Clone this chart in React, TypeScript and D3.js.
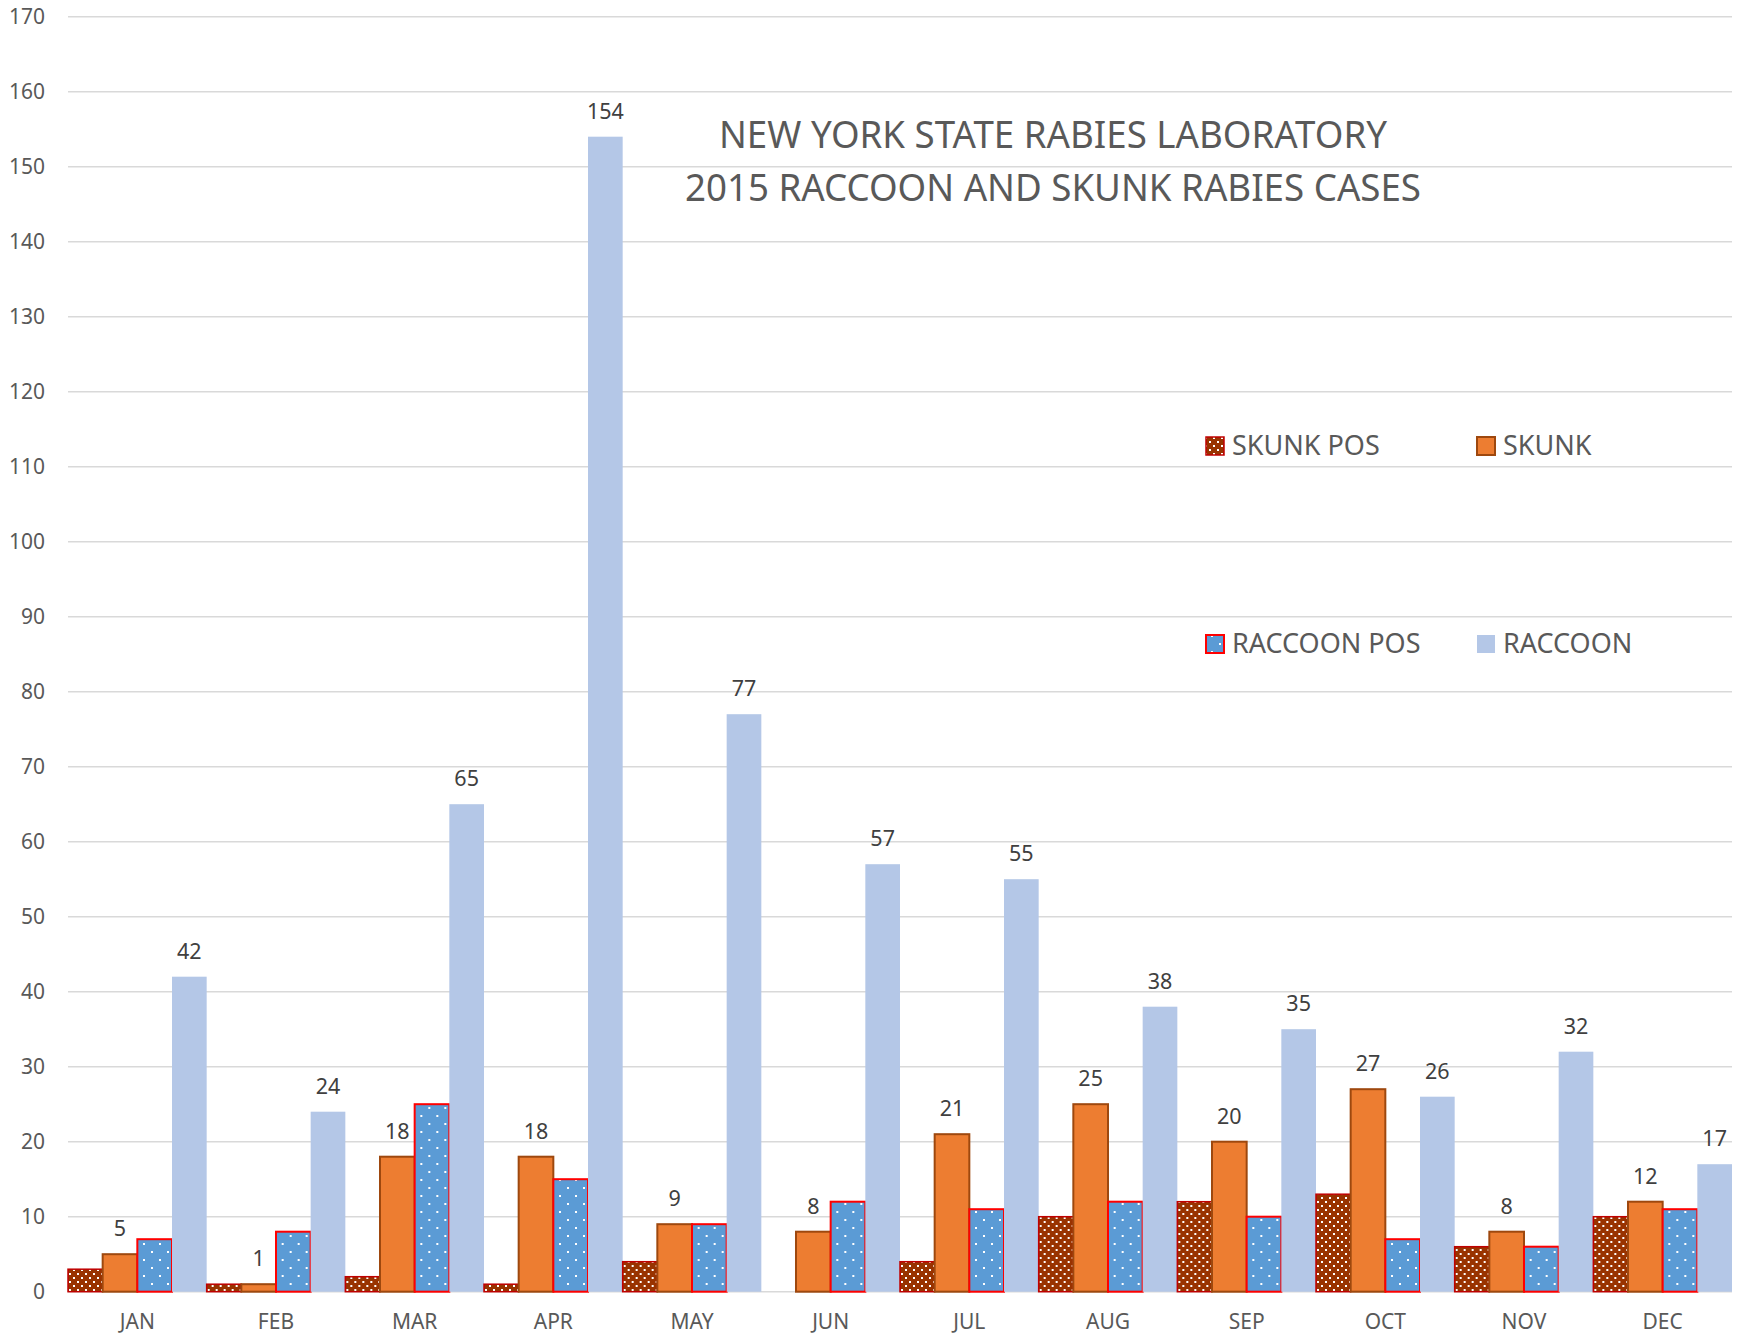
import React from "react";
import * as d3 from "d3";

const months = ["JAN", "FEB", "MAR", "APR", "MAY", "JUN", "JUL", "AUG", "SEP", "OCT", "NOV", "DEC"];
const seriesNames = ["SKUNK POS", "SKUNK", "RACCOON POS", "RACCOON"];
const skunkPos = [3, 1, 2, 1, 4, 0, 4, 10, 12, 13, 6, 10];
const skunk = [5, 1, 18, 18, 9, 8, 21, 25, 20, 27, 8, 12];
const raccoonPos = [7, 8, 25, 15, 9, 12, 11, 12, 10, 7, 6, 11];
const raccoon = [42, 24, 65, 154, 77, 57, 55, 38, 35, 26, 32, 17];
const yTicks = [0, 10, 20, 30, 40, 50, 60, 70, 80, 90, 100, 110, 120, 130, 140, 150, 160, 170];
const titleLines = ["NEW YORK STATE RABIES LABORATORY", "2015 RACCOON AND SKUNK RABIES CASES"];

const W = 1740;
const H = 1336;
const plot = { left: 68, right: 1732, top: 16.7, bottom: 1291.7 };
const FONT = "'Noto Sans', 'Open Sans', sans-serif";

const styles: Record<string, { fill: string; stroke: string; sw: number; label: boolean }> = {
  "SKUNK POS": { fill: "url(#pSkunkPos)", stroke: "#C00000", sw: 1.5, label: false },
  SKUNK: { fill: "#ED7D31", stroke: "#9E480E", sw: 2, label: true },
  "RACCOON POS": { fill: "url(#pRaccoonPos)", stroke: "#FF0000", sw: 2, label: false },
  RACCOON: { fill: "#B4C7E7", stroke: "none", sw: 0, label: true },
};

export default function App() {
  const values = [skunkPos, skunk, raccoonPos, raccoon];
  const x0 = d3.scaleBand<string>().domain(months).range([plot.left, plot.right]).padding(0);
  const x1 = d3.scaleBand<string>().domain(seriesNames).range([0, x0.bandwidth()]).padding(0);
  const y = d3.scaleLinear().domain([0, 170]).range([plot.bottom, plot.top]);

  const legendItems = [
    { name: "SKUNK POS", x: 1206, y: 437 },
    { name: "SKUNK", x: 1477, y: 437 },
    { name: "RACCOON POS", x: 1206, y: 635 },
    { name: "RACCOON", x: 1477, y: 635 },
  ];

  return (
    <svg
      width={W}
      height={H}
      style={{ position: "absolute", left: 0, top: 0, background: "#fff" }}
      fontFamily={FONT}
    >
      <defs>
        <pattern id="pSkunkPos" patternUnits="userSpaceOnUse" width={8} height={8}>
          <rect width={8} height={8} fill="#993300" />
          <rect x={1} y={1} width={2} height={2} fill="#fff" />
          <rect x={5} y={5} width={2} height={2} fill="#fff" />
        </pattern>
        <pattern id="pRaccoonPos" patternUnits="userSpaceOnUse" width={16} height={16}>
          <rect width={16} height={16} fill="#5B9BD5" />
          <rect x={3} y={3} width={2} height={2} fill="#fff" />
          <rect x={11} y={11} width={2} height={2} fill="#fff" />
        </pattern>
      </defs>
      <rect width={W} height={H} fill="#fff" />

      {yTicks.map((t) => (
        <g key={t}>
          <line x1={plot.left} x2={plot.right} y1={y(t)} y2={y(t)} stroke="#D9D9D9" strokeWidth={1.5} />
          <text x={45} y={y(t)} dy="0.35em" textAnchor="end" fontSize={21} fill="#595959">
            {t}
          </text>
        </g>
      ))}

      {titleLines.map((t, i) => (
        <text
          key={t}
          x={1053}
          y={148 + i * 53}
          textAnchor="middle"
          fontSize={38}
          fill="#595959"
          textLength={i === 0 ? 668 : 736}
          lengthAdjust="spacingAndGlyphs"
        >
          {t}
        </text>
      ))}

      {legendItems.map((it) => {
        const s = styles[it.name];
        return (
          <g key={it.name}>
            <rect
              x={it.x}
              y={it.y}
              width={18}
              height={18}
              fill={s.fill}
              stroke={s.stroke}
              strokeWidth={s.sw}
            />
            <text x={it.x + 26} y={it.y + 18} fontSize={27} fill="#595959">
              {it.name}
            </text>
          </g>
        );
      })}

      {months.map((m, mi) => (
        <g key={m} transform={`translate(${x0(m)},0)`}>
          {seriesNames.map((s, si) => {
            const v = values[si][mi];
            const st = styles[s];
            if (v <= 0) return null;
            const bx = x1(s) as number;
            const bw = x1.bandwidth();
            return (
              <g key={s}>
                <rect
                  x={bx}
                  y={y(v)}
                  width={bw}
                  height={y(0) - y(v)}
                  fill={st.fill}
                  stroke={st.stroke}
                  strokeWidth={st.sw}
                />
              </g>
            );
          })}
          {seriesNames.map((s, si) => {
            const v = values[si][mi];
            const st = styles[s];
            if (!st.label) return null;
            return (
              <text
                key={s + "l"}
                x={(x1(s) as number) + x1.bandwidth() / 2}
                y={y(v) - 18}
                textAnchor="middle"
                fontSize={21.5}
                fill="#404040"
              >
                {v}
              </text>
            );
          })}
          <text
            x={x0.bandwidth() / 2}
            y={1322}
            dy="0.35em"
            textAnchor="middle"
            fontSize={21}
            fill="#595959"
          >
            {m}
          </text>
        </g>
      ))}
    </svg>
  );
}
